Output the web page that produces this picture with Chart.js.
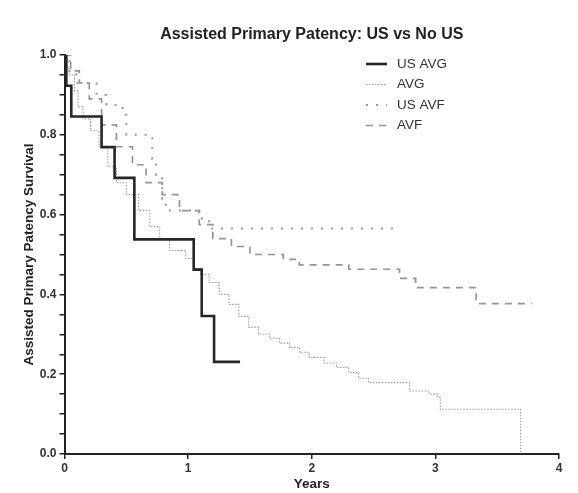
<!DOCTYPE html>
<html>
<head>
<meta charset="utf-8">
<script src="https://cdn.jsdelivr.net/npm/chart.js@4.4.1/dist/chart.umd.min.js"></script>
<style>
  html, body { margin: 0; padding: 0; background: #fff; }
  #wrap { width: 578px; height: 493px; }
</style>
</head>
<body>
<div id="wrap"><canvas id="kmChart" width="578" height="493"></canvas></div>
<script>
// Kaplan-Meier curves (years -> survival)
const usAvgYears = [0, 0.015, 0.055, 0.30, 0.405, 0.565, 1.045, 1.11, 1.21, 1.42];
const usAvgSurv  = [1.0, 0.923, 0.846, 0.769, 0.692, 0.538, 0.462, 0.346, 0.231, 0.231];

const avgYears = [0, 0.02, 0.04, 0.08, 0.11, 0.15, 0.21, 0.28, 0.35, 0.42, 0.50, 0.60, 0.69, 0.77, 0.85, 0.98,
                  1.05, 1.10, 1.17, 1.25, 1.33, 1.41, 1.49, 1.57, 1.66, 1.74, 1.82, 1.90, 1.98, 2.10, 2.20,
                  2.30, 2.38, 2.46, 2.79, 2.95, 3.02, 3.04, 3.69];
const avgSurv  = [1.0, 0.97, 0.95, 0.91, 0.87, 0.84, 0.81, 0.77, 0.72, 0.68, 0.65, 0.61, 0.57, 0.54, 0.51, 0.49,
                  0.465, 0.45, 0.43, 0.40, 0.375, 0.345, 0.318, 0.30, 0.29, 0.278, 0.267, 0.255, 0.242, 0.228, 0.217,
                  0.204, 0.19, 0.179, 0.158, 0.15, 0.142, 0.112, 0.0];

const usAvfYears = [0, 0.04, 0.095, 0.26, 0.34, 0.47, 0.50, 0.71, 0.74, 0.79, 0.82, 1.09, 1.17, 2.71];
const usAvfSurv  = [1.0, 0.96, 0.93, 0.90, 0.875, 0.85, 0.80, 0.74, 0.70, 0.64, 0.61, 0.59, 0.565, 0.565];

const avfYears = [0, 0.05, 0.12, 0.20, 0.30, 0.42, 0.55, 0.66, 0.79, 0.93, 1.09, 1.20, 1.35, 1.50, 1.77,
                  1.90, 2.30, 2.71, 2.84, 3.33, 3.78];
const avfSurv  = [1.0, 0.96, 0.93, 0.89, 0.825, 0.77, 0.725, 0.68, 0.65, 0.61, 0.575, 0.54, 0.52, 0.50, 0.488,
                  0.474, 0.463, 0.44, 0.417, 0.377, 0.377];

const xTicks = [0, 1, 2, 3, 4];
const yMajor = [0, 0.2, 0.4, 0.6, 0.8, 1.0];

Chart.defaults.font.family = '"Liberation Sans", Arial, sans-serif';
Chart.defaults.color = '#333';

function pts(xs, ys) {
    return xs.map((x, i) => ({ x: x, y: ys[i] }));
}

const series = [
    { label: 'US AVG', data: pts(usAvgYears, usAvgSurv), borderColor: '#262626', borderWidth: 2.6, borderDash: [] },
    { label: 'AVG', data: pts(avgYears, avgSurv), borderColor: '#9a9a9a', borderWidth: 1.1, borderDash: [1.5, 1.5] },
    { label: 'US AVF', data: pts(usAvfYears, usAvfSurv), borderColor: '#9a9a9a', borderWidth: 2, borderDash: [2, 8] },
    { label: 'AVF', data: pts(avfYears, avfSurv), borderColor: '#959595', borderWidth: 1.7, borderDash: [7, 6] }
];

// legend drawn inside the plot, top right, with line samples
const insideLegend = {
    id: 'insideLegend',
    afterDraw(chart) {
        const ctx = chart.ctx;
        const x0 = 366, x1 = 387, tx = 397;
        const rows = [64, 84.5, 105, 125.5];
        ctx.save();
        ctx.font = '13.5px "Liberation Sans", Arial, sans-serif';
        ctx.textBaseline = 'middle';
        chart.data.datasets.forEach((ds, i) => {
            const y = rows[i];
            ctx.beginPath();
            ctx.setLineDash(ds.borderDash || []);
            ctx.strokeStyle = ds.borderColor;
            ctx.lineWidth = ds.borderWidth;
            ctx.moveTo(x0, y);
            ctx.lineTo(x1, y);
            ctx.stroke();
            ctx.setLineDash([]);
            ctx.fillStyle = '#333';
            ctx.fillText(ds.label, tx, y);
        });
        ctx.restore();
    }
};

const ctx = document.getElementById('kmChart').getContext('2d');
new Chart(ctx, {
    type: 'line',
    data: {
        datasets: series.map(s => Object.assign({}, s, {
            stepped: 'before',
            pointRadius: 0,
            fill: false,
            tension: 0
        }))
    },
    options: {
        responsive: false,
        animation: false,
        devicePixelRatio: 1,
        layout: { padding: { left: 0, right: 19, top: 0, bottom: 0 } },
        plugins: {
            legend: { display: false },
            tooltip: { enabled: false },
            title: {
                display: true,
                fullSize: false,
                text: 'Assisted Primary Patency: US vs No US',
                color: '#222',
                font: { size: 16, weight: 'bold' },
                padding: { top: 25, bottom: 10.8 }
            }
        },
        scales: {
            x: {
                type: 'linear',
                min: 0, max: 4,
                afterFit: (s) => { s.height = 39; },
                afterBuildTicks: (s) => { s.ticks = xTicks.map(v => ({ value: v })); },
                ticks: { font: { size: 12, weight: 'bold' }, color: '#333', padding: 2 },
                grid: { display: true, drawOnChartArea: false, drawTicks: true, tickLength: 5, color: '#222', lineWidth: 1.5 },
                border: { display: true, color: '#222', width: 2 },
                title: { display: true, text: 'Years', color: '#222', font: { size: 13.5, weight: 'bold' }, padding: { top: 0, bottom: 1 } }
            },
            y: {
                min: 0, max: 1,
                afterFit: (s) => { s.width = 64.5; },
                ticks: {
                    stepSize: 0.05,
                    autoSkip: false,
                    font: { size: 12, weight: 'bold' },
                    color: '#333',
                    padding: 3,
                    callback: (v) => {
                        const isMajor = yMajor.some(m => Math.abs(m - v) < 1e-6);
                        return isMajor ? Number(v).toFixed(1) : '';
                    }
                },
                grid: { display: true, drawOnChartArea: false, drawTicks: true, tickLength: 5, color: '#222', lineWidth: 1.5 },
                border: { display: true, color: '#222', width: 2 },
                title: { display: true, text: 'Assisted Primary Patency Survival', color: '#222', font: { size: 13.5, weight: 'bold' }, padding: { top: 21, bottom: 0 } }
            }
        }
    },
    plugins: [insideLegend]
});
</script>
</body>
</html>
